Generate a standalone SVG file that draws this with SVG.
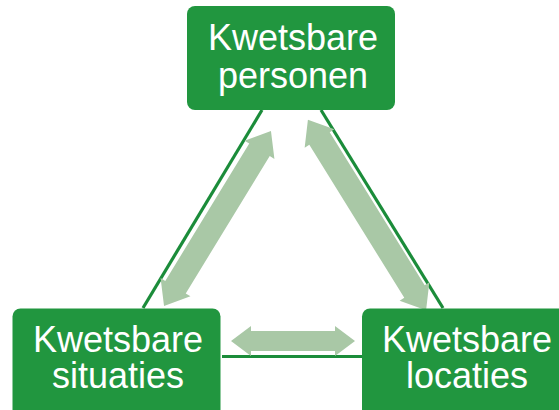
<svg xmlns="http://www.w3.org/2000/svg" width="559" height="410" viewBox="0 0 559 410">
<style>
.box{fill:#21963f;}
.lbl{font-family:"Liberation Sans",Arial,sans-serif;font-size:36px;fill:#ffffff;text-anchor:middle;}
.ln{stroke:#1b8c3a;stroke-width:3.2;fill:none;}
.arr{fill:#a9c8a6;}
</style>
<rect width="559" height="410" fill="#ffffff"/>
<g id="connectors">
<line class="ln" x1="262" y1="110" x2="143" y2="308"/>
<line class="ln" x1="321" y1="110" x2="443" y2="308"/>
<line class="ln" x1="222" y1="356.5" x2="362" y2="356.5"/>
<path class="arr" transform="translate(217.5,218.5) rotate(-58.56)" d="M-102.5 0 L-80.5 -17.5 L-80.5 -12 L80.5 -12 L80.5 -17.5 L102.5 0 L80.5 17.5 L80.5 12 L-80.5 12 L-80.5 17.5 Z"/>
<path class="arr" transform="translate(367,215) rotate(58.16)" d="M-112 0 L-90 -17.5 L-90 -12 L90 -12 L90 -17.5 L112 0 L90 17.5 L90 12 L-90 12 L-90 17.5 Z"/>
<path class="arr" transform="translate(293,341)" d="M-62 0 L-42 -15 L-42 -10 L42 -10 L42 -15 L62 0 L42 15 L42 10 L-42 10 L-42 15 Z"/>
</g>
<g id="node-personen">
<rect class="box" x="187" y="6" width="208" height="104" rx="8"/>
<text class="lbl" x="293" y="50">Kwetsbare</text>
<text class="lbl" x="293" y="87.5">personen</text>
</g>
<g id="node-situaties">
<rect class="box" x="12.5" y="308.5" width="208" height="115" rx="8"/>
<text class="lbl" x="118" y="351.5">Kwetsbare</text>
<text class="lbl" x="118" y="388">situaties</text>
</g>
<g id="node-locaties">
<rect class="box" x="362" y="308.5" width="215" height="115" rx="8"/>
<text class="lbl" x="467" y="351.5">Kwetsbare</text>
<text class="lbl" x="467" y="388">locaties</text>
</g>
</svg>
